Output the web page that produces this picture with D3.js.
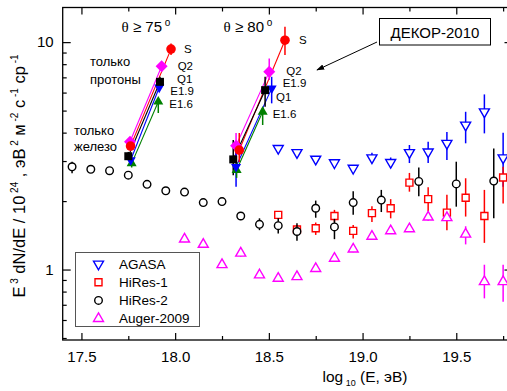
<!DOCTYPE html>
<html>
<head>
<meta charset="utf-8">
<script src="https://cdn.jsdelivr.net/npm/d3@7"></script>
<style>
  body { margin: 0; background: #fff; }
  svg { font-family: Arial, "Liberation Sans", sans-serif; }
</style>
</head>
<body>
<div id="chart"></div>
<script>
// rows: [log10 E, value, low, high]
const agasa = [
  [18.55, 3.41, 3.41, 3.41], [18.65, 3.27, 3.27, 3.27], [18.75, 3.06, 3.06, 3.06],
  [18.85, 2.95, 2.95, 2.95], [18.95, 2.79, 2.79, 2.79], [19.05, 3.10, 2.95, 3.26],
  [19.15, 2.96, 2.81, 3.11], [19.25, 3.27, 2.94, 3.53], [19.35, 3.29, 2.94, 3.65],
  [19.45, 3.59, 3.03, 4.03], [19.55, 4.32, 3.59, 4.94], [19.65, 4.94, 3.97, 5.89],
  [19.75, 3.10, 2.31, 4.00]
];
const hires1 = [
  [18.55, 1.74, 1.74, 1.74], [18.65, 1.50, 1.44, 1.57], [18.75, 1.52, 1.42, 1.61],
  [18.85, 1.72, 1.62, 1.83], [18.95, 1.48, 1.37, 1.57], [19.05, 1.77, 1.62, 1.90],
  [19.15, 1.86, 1.68, 2.04], [19.25, 2.41, 2.20, 2.66], [19.35, 2.04, 1.80, 2.30],
  [19.45, 1.78, 1.49, 2.13], [19.55, 2.07, 1.71, 2.52], [19.65, 1.72, 1.31, 2.24],
  [19.75, 2.54, 1.95, 2.83]
];
const hires2 = [
  [17.45, 2.83, 2.65, 2.98], [17.55, 2.76, 2.76, 2.76], [17.65, 2.72, 2.72, 2.72],
  [17.75, 2.60, 2.60, 2.60], [17.85, 2.37, 2.37, 2.37], [17.95, 2.22, 2.22, 2.22],
  [18.05, 2.19, 2.19, 2.19], [18.15, 1.97, 1.97, 1.97], [18.25, 1.99, 1.99, 1.99],
  [18.35, 1.72, 1.65, 1.79], [18.45, 1.58, 1.49, 1.68], [18.55, 1.56, 1.44, 1.68],
  [18.65, 1.47, 1.34, 1.60], [18.75, 1.86, 1.69, 2.01], [18.85, 1.54, 1.36, 1.67],
  [18.95, 1.97, 1.74, 2.21], [19.1, 2.02, 1.79, 2.24], [19.3, 2.44, 2.10, 2.81],
  [19.5, 2.38, 1.89, 2.98], [19.7, 2.45, 1.68, 3.41]
];
const auger = [
  [18.05, 1.36, 1.32, 1.40], [18.15, 1.29, 1.25, 1.33], [18.25, 1.05, 1.02, 1.08],
  [18.35, 1.18, 1.14, 1.22], [18.45, 0.946, 0.92, 0.97], [18.55, 0.915, 0.89, 0.94],
  [18.65, 0.930, 0.90, 0.96], [18.75, 1.01, 0.98, 1.04], [18.85, 1.12, 1.09, 1.15],
  [18.95, 1.23, 1.19, 1.27], [19.05, 1.40, 1.36, 1.44], [19.15, 1.48, 1.44, 1.52],
  [19.25, 1.51, 1.47, 1.56], [19.35, 1.70, 1.64, 1.76], [19.45, 1.69, 1.63, 1.75],
  [19.55, 1.43, 1.29, 1.55], [19.65, 0.884, 0.747, 1.05], [19.75, 0.884, 0.722, 1.05]
];

// DECOR-2010: [name, iron x, y, low, high, proton x, y, low, high]
const decor75 = [
  ["S",    17.762, 3.49, 3.35, 3.63, 17.978, 9.32, 8.77, 9.87],
  ["Q2",   17.759, 3.65, 3.54, 3.76, 17.928, 7.84, 7.61, 8.08],
  ["Q1",   17.750, 3.15, 3.03, 3.29, 17.919, 6.69, 6.32, 7.04],
  ["E1.9", 17.763, 3.03, 2.91, 3.15, 17.915, 6.32, 6.07, 6.58],
  ["E1.6", 17.768, 2.93, 2.81, 3.05, 17.910, 5.47, 4.88, 5.63]
];
const decor80 = [
  ["S",    18.342, 3.35, 2.97, 3.98, 18.586, 10.2, 8.77, 11.7],
  ["Q2",   18.325, 3.50, 3.03, 3.98, 18.502, 7.40, 6.81, 8.48],
  ["Q1",   18.310, 3.05, 2.60, 3.71, 18.480, 6.15, 5.20, 7.04],
  ["E1.9", 18.325, 2.83, 2.31, 3.35, 18.515, 6.26, 5.38, 7.04],
  ["E1.6", 18.328, 2.74, 2.53, 2.97, 18.467, 4.94, 4.32, 5.15]
];

const xMajor = [17.5, 18.0, 18.5, 19.0, 19.5];
const xMinor = [17.75, 18.25, 18.75, 19.25, 19.75];
const yMajor = [1, 10];
const yMinor = [0.5, 0.6, 0.7, 0.8, 0.9, 2, 3, 4, 5, 6, 7, 8, 9];

const W = 507, H = 391;
const plotL = 62.7, plotR = 512.5, plotT = 7.5, plotB = 340;

const svg = d3.select("#chart").append("svg")
  .attr("width", W).attr("height", H);

const x = d3.scaleLinear().domain([17.4, 19.8]).range([plotL, plotR]);
const y = d3.scaleLog().domain([0.49, 14.2]).range([plotB, plotT]);

// axes with inward ticks
const axisStyle = (g) => {
  g.select(".domain").remove();
  g.selectAll("line").attr("stroke", "#000").attr("stroke-width", 1.2);
  g.selectAll("text").attr("fill", "#000").style("font-size", "15px");
};

svg.append("g").attr("transform", `translate(0,${plotB})`)
  .call(d3.axisBottom(x).tickValues(xMajor).tickSize(-7).tickPadding(11).tickFormat(d3.format(".1f")))
  .call(axisStyle);
svg.append("g").attr("transform", `translate(0,${plotB})`)
  .call(d3.axisBottom(x).tickValues(xMinor).tickSize(-4).tickFormat(""))
  .call(axisStyle);
svg.append("g").attr("transform", `translate(0,${plotT})`)
  .call(d3.axisTop(x).tickValues(xMajor).tickSize(-7).tickFormat(""))
  .call(axisStyle);
svg.append("g").attr("transform", `translate(0,${plotT})`)
  .call(d3.axisTop(x).tickValues(xMinor).tickSize(-4).tickFormat(""))
  .call(axisStyle);

svg.append("g").attr("transform", `translate(${plotL},0)`)
  .call(d3.axisLeft(y).tickValues(yMajor).tickSize(-8).tickPadding(9).tickFormat(d3.format("d")))
  .call(axisStyle);
svg.append("g").attr("transform", `translate(${plotL},0)`)
  .call(d3.axisLeft(y).tickValues(yMinor).tickSize(-4).tickFormat(""))
  .call(axisStyle);
svg.append("g").attr("transform", `translate(${plotR},0)`)
  .call(d3.axisRight(y).tickValues(yMajor).tickSize(-8).tickFormat(""))
  .call(axisStyle);
svg.append("g").attr("transform", `translate(${plotR},0)`)
  .call(d3.axisRight(y).tickValues(yMinor).tickSize(-4).tickFormat(""))
  .call(axisStyle);

// frame
svg.append("rect")
  .attr("x", plotL).attr("y", plotT)
  .attr("width", plotR - plotL).attr("height", plotB - plotT)
  .attr("fill", "none").attr("stroke", "#000").attr("stroke-width", 1.3);

// marker shapes
const triPath = (a, down) => {
  const h1 = a / Math.sqrt(3), h2 = a / (2 * Math.sqrt(3)), s = down ? -1 : 1;
  return `M0,${-s * h1}L${a / 2},${s * h2}L${-a / 2},${s * h2}Z`;
};
const shapes = {
  circle: (r) => `M${-r},0A${r},${r} 0 1,0 ${r},0A${r},${r} 0 1,0 ${-r},0Z`,
  square: (a) => `M${-a / 2},${-a / 2}h${a}v${a}h${-a}Z`,
  diamond: (r) => `M0,${-r}L${r},0L0,${r}L${-r},0Z`,
  up: (a) => triPath(a, false),
  down: (a) => triPath(a, true)
};

const drawSeries = (data, color, shape, size) => {
  const g = svg.append("g");
  g.selectAll("line").data(data.filter(d => d[3] > d[2])).join("line")
    .attr("x1", d => x(d[0])).attr("x2", d => x(d[0]))
    .attr("y1", d => y(d[2])).attr("y2", d => y(d[3]))
    .attr("stroke", color).attr("stroke-width", 1.5);
  g.selectAll("path").data(data).join("path")
    .attr("d", shapes[shape](size))
    .attr("transform", d => `translate(${x(d[0])},${y(d[1])})`)
    .attr("fill", "#fff").attr("stroke", color).attr("stroke-width", 1.4);
};

drawSeries(agasa, "#0000ff", "down", 10);
drawSeries(hires1, "#ff0000", "square", 7);
drawSeries(hires2, "#000", "circle", 3.8);
drawSeries(auger, "#ff00ff", "up", 10);

// DECOR-2010
const decorStyle = {
  "S":    { color: "#ff0000", shape: "circle", size: 4.8 },
  "Q2":   { color: "#ff00ff", shape: "diamond", size: 6 },
  "Q1":   { color: "#000",    shape: "square", size: 8 },
  "E1.9": { color: "#0000ff", shape: "down", size: 10 },
  "E1.6": { color: "#008000", shape: "up", size: 10 }
};
const labelOffsets75 = { "S": [13, 0], "Q2": [16, 0], "Q1": [17, -2.5], "E1.9": [11, 4], "E1.6": [11, 2.5] };
const labelOffsets80 = { "S": [14, 0], "Q2": [17, -1], "Q1": [11, 7], "E1.9": [11, -5], "E1.6": [10, 2] };

const drawDecor = (rows, offsets) => {
  const g = svg.append("g");
  rows.forEach(r => {
    const st = decorStyle[r[0]];
    g.append("line")
      .attr("x1", x(r[1])).attr("y1", y(r[2]))
      .attr("x2", x(r[5])).attr("y2", y(r[6]))
      .attr("stroke", st.color).attr("stroke-width", 1.1);
  });
  rows.forEach(r => {
    const st = decorStyle[r[0]];
    [[r[1], r[2], r[3], r[4]], [r[5], r[6], r[7], r[8]]].forEach(p => {
      g.append("line")
        .attr("x1", x(p[0])).attr("x2", x(p[0]))
        .attr("y1", y(p[2])).attr("y2", y(p[3]))
        .attr("stroke", st.color).attr("stroke-width", 1.5);
    });
  });
  // bottom series first so S / Q2 sit on top
  rows.slice().reverse().forEach(r => {
    const st = decorStyle[r[0]];
    [[r[1], r[2]], [r[5], r[6]]].forEach(p => {
      g.append("path")
        .attr("d", shapes[st.shape](st.size))
        .attr("transform", `translate(${x(p[0])},${y(p[1])})`)
        .attr("fill", st.color);
    });
    const o = offsets[r[0]];
    g.append("text")
      .attr("x", x(r[5]) + o[0]).attr("y", y(r[6]) + o[1])
      .attr("dy", "0.35em")
      .style("font-size", "11.5px")
      .text(r[0]);
  });
};
drawDecor(decor75, labelOffsets75);
drawDecor(decor80, labelOffsets80);

// annotations
const ann = svg.append("g").style("font-size", "13px");
const theta = (cx, deg) => {
  const t = ann.append("text").attr("x", cx).attr("y", 32)
    .attr("text-anchor", "middle").style("font-size", "15px");
  t.append("tspan").style("font-family", "'Liberation Serif', 'DejaVu Serif', serif").text("θ");
  t.append("tspan").text(" ≥ " + deg);
  t.append("tspan").attr("dy", -6).style("font-size", "10px").text(" o");
};
theta(146, 75);
theta(248, 80);

ann.append("text").attr("x", 90).attr("y", 66).text("только");
ann.append("text").attr("x", 90).attr("y", 84).text("протоны");
ann.append("text").attr("x", 74).attr("y", 135).text("только");
ann.append("text").attr("x", 74).attr("y", 151).text("железо");

ann.append("rect")
  .attr("x", 379.5).attr("y", 18.5).attr("width", 111).attr("height", 26.5)
  .attr("fill", "#fff").attr("stroke", "#000").attr("stroke-width", 1);
ann.append("text").attr("x", 435).attr("y", 37.5).attr("text-anchor", "middle")
  .style("font-size", "15px").text("ДЕКОР-2010");

svg.append("defs").append("marker")
  .attr("id", "arrow").attr("viewBox", "0 0 10 10")
  .attr("refX", 9).attr("refY", 5)
  .attr("markerWidth", 8).attr("markerHeight", 8)
  .attr("orient", "auto")
  .append("path").attr("d", "M0,1.5L10,5L0,8.5Z").attr("fill", "#000");
ann.append("line")
  .attr("x1", 377).attr("y1", 42).attr("x2", 317).attr("y2", 70)
  .attr("stroke", "#000").attr("stroke-width", 1)
  .attr("marker-end", "url(#arrow)");

// legend
const legendItems = [
  { name: "AGASA", color: "#0000ff", shape: "down", size: 10 },
  { name: "HiRes-1", color: "#ff0000", shape: "square", size: 7 },
  { name: "HiRes-2", color: "#000", shape: "circle", size: 3.8 },
  { name: "Auger-2009", color: "#ff00ff", shape: "up", size: 10 }
];
const lg = svg.append("g");
lg.append("rect")
  .attr("x", 75.5).attr("y", 252.5).attr("width", 124).attr("height", 74)
  .attr("fill", "#fff").attr("stroke", "#555").attr("stroke-width", 1);
legendItems.forEach((d, i) => {
  const cy = 264 + i * 18.2;
  lg.append("path").attr("d", shapes[d.shape](d.size))
    .attr("transform", `translate(98.5,${cy})`)
    .attr("fill", "#fff").attr("stroke", d.color).attr("stroke-width", 1.4);
  lg.append("text").attr("x", 119).attr("y", cy).attr("dy", "0.36em")
    .style("font-size", "13.5px").text(d.name);
});

// axis titles
const xt = svg.append("text").attr("x", 365).attr("y", 382)
  .attr("text-anchor", "middle").style("font-size", "15.5px");
xt.append("tspan").text("log");
xt.append("tspan").attr("dy", 4).style("font-size", "9px").text(" 10");
xt.append("tspan").attr("dy", -4).text(" (E, эВ)");

const yt = svg.append("text")
  .attr("transform", "translate(25,176) rotate(-90)")
  .attr("text-anchor", "middle").style("font-size", "16.5px");
const sup = (t) => yt.append("tspan").attr("dy", -7).style("font-size", "10px").text(t);
const base = (t) => yt.append("tspan").attr("dy", 7).text(t);
yt.append("tspan").text("E");
sup(" 3");
base(" dN/dE / 10");
sup(" 24");
base(" , эВ");
sup(" 2");
base(" м");
sup(" -2");
base(" с");
sup(" -1");
base(" ср");
sup(" -1");
</script>
</body>
</html>
